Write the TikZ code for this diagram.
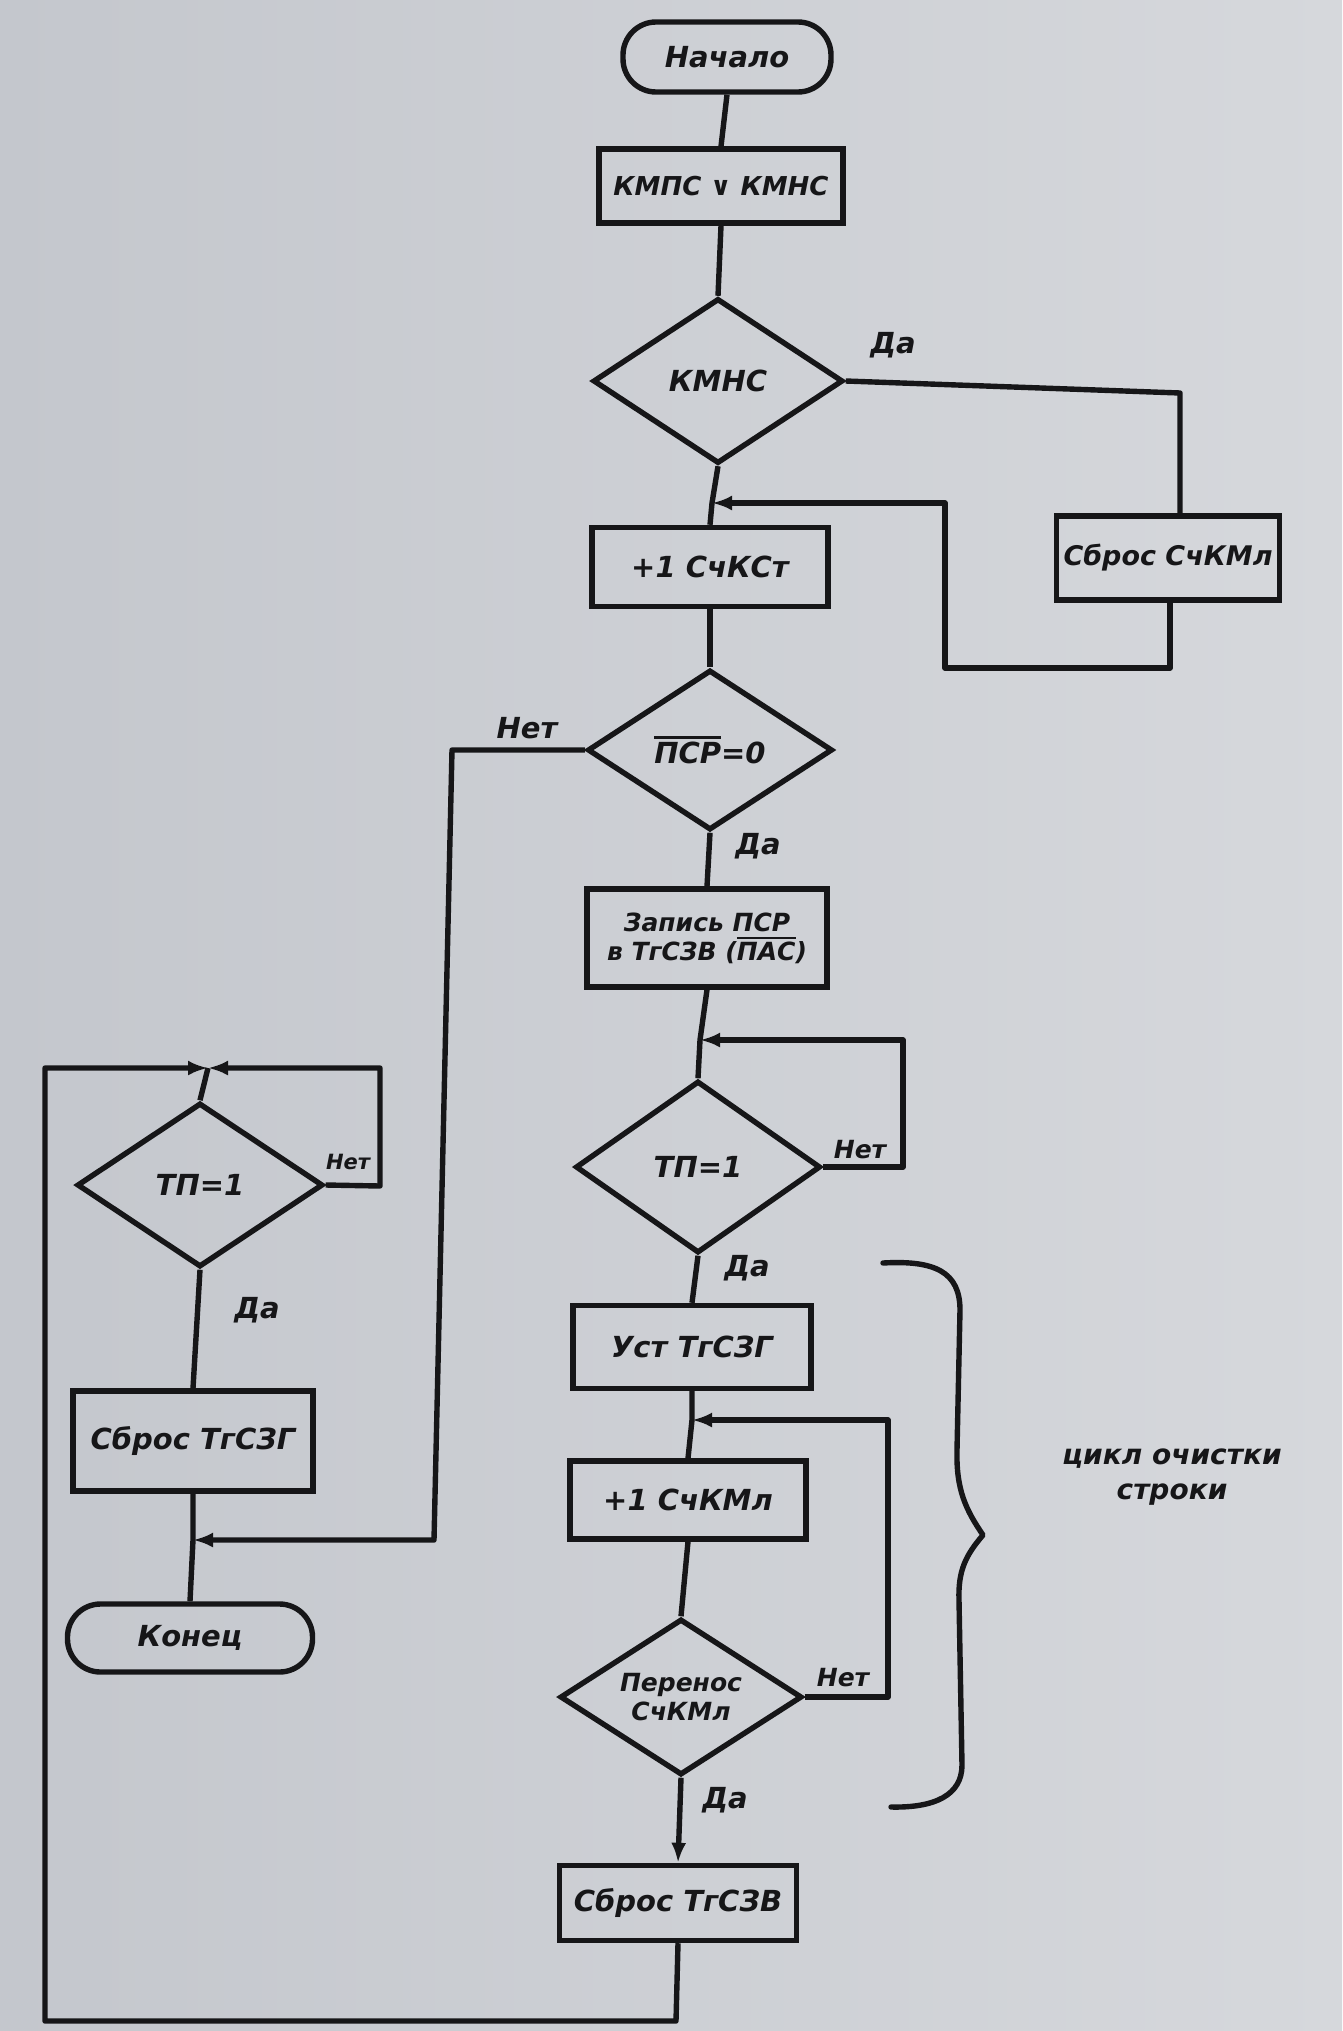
\documentclass[tikz,border=0pt]{standalone}
\usepackage{fontspec}
\setmainfont{DejaVu Sans}
\usetikzlibrary{shapes.geometric,arrows.meta}
\definecolor{ink}{RGB}{22,22,24}
\definecolor{paperL}{RGB}{196,199,205}
\definecolor{paperR}{RGB}{214,216,220}
\newcommand\ovl[1]{\leavevmode\setbox0\hbox{#1}\rlap{\raisebox{1.12\ht0}{\rule{\wd0}{2.6pt}}}\box0}
\begin{document}
\begin{tikzpicture}[x=1pt,y=-1pt,
  ln/.style={draw=ink,line width=5.4pt,line join=round},
  arr/.style={-{Latex[length=20pt,width=15pt]}},
  txt/.style={font=\fontsize{29}{35}\selectfont\bfseries\itshape,text=ink},
  box/.style={txt,draw=ink,line width=5.4pt,inner sep=0pt,align=center},
  term/.style={box,rounded corners=33pt},
  dia/.style={box,diamond,aspect=1.5},
  lab/.style={txt,inner sep=0pt}]
\useasboundingbox (0,0) rectangle (1342,2031);
\shade[left color=paperL,right color=paperR] (0,0) rectangle (1342,2031);
% nodes
\node[term,minimum width=208pt,minimum height=70pt] (start) at (727,57) {Начало};
\node[box,minimum width=244pt,minimum height=74pt,font=\fontsize{26}{32}\selectfont\bfseries\itshape] (kk) at (721,186) {КМПС ∨ КМНС};
\node[dia,minimum width=250pt,minimum height=165pt] (d1) at (718,381) {КМНС};
\node[box,minimum width=223pt,minimum height=84pt,font=\fontsize{27}{34}\selectfont\bfseries\itshape] (sb1) at (1168,558) {Сброс СчКМл};
\node[box,minimum width=236pt,minimum height=79pt] (p1) at (710,567) {+1 СчКСт};
\node[dia,minimum width=245pt,minimum height=160pt] (d2) at (710,750) {\ovl{ПСР}=0};
\node[box,minimum width=240pt,minimum height=98pt,font=\fontsize{25}{29}\selectfont\bfseries\itshape] (zap) at (707,938) {Запись ПСР\\в ТгСЗВ (\ovl{ПАС})};
\node[dia,minimum width=245pt,minimum height=172pt] (d3) at (698,1167) {ТП=1};
\node[box,minimum width=238pt,minimum height=83pt] (ust) at (692,1347) {Уст ТгСЗГ};
\node[box,minimum width=236pt,minimum height=78pt] (p2) at (688,1500) {+1 СчКМл};
\node[dia,minimum width=242pt,minimum height=156pt,font=\fontsize{25}{29}\selectfont\bfseries\itshape] (d4) at (681,1697) {Перенос\\СчКМл};
\node[box,minimum width=237pt,minimum height=75pt] (sb3) at (678,1903) {Сброс ТгСЗВ};
\node[dia,minimum width=246pt,minimum height=164pt] (d5) at (200,1185) {ТП=1};
\node[box,minimum width=240pt,minimum height=100pt] (sb2) at (193,1441) {Сброс ТгСЗГ};
\node[term,minimum width=245pt,minimum height=68pt] (end) at (190,1638) {Конец};
% junctions and bends
\coordinate (j1) at (712,503);
\coordinate (j3) at (700,1040);
\coordinate (j4) at (692,1420);
\coordinate (j5) at (208,1068);
\coordinate (j6) at (193,1540);
\coordinate (c1) at (1180,393);
\coordinate (c2) at (1170,668);
\coordinate (c3) at (945,668);
\coordinate (c4) at (945,503);
\coordinate (n1) at (452,750);
\coordinate (n2) at (434,1540);
\coordinate (r1) at (903,1167);
\coordinate (r2) at (903,1040);
\coordinate (q1) at (888,1697);
\coordinate (q2) at (888,1420);
\coordinate (b1) at (676,2021);
\coordinate (b2) at (45,2021);
\coordinate (b3) at (45,1068);
\coordinate (l1) at (380,1186);
\coordinate (l2) at (380,1068);
% main flow
\draw[ln] (start.south) -- (kk.north);
\draw[ln] (kk.south) -- (d1.north);
\draw[ln] (d1.east) -- (c1) -- (sb1.north -| c1);
\draw[ln] (d1.south) -- (j1) -- (p1.north);
\draw[ln,arr] (sb1.south -| c2) -- (c2) -- (c3) -- (c4) -- (j1);
\draw[ln] (p1.south) -- (d2.north);
\draw[ln,arr] (d2.west) -- (n1) -- (n2) -- (j6);
\draw[ln] (d2.south) -- (zap.north);
\draw[ln] (zap.south) -- (j3) -- (d3.north);
\draw[ln,arr] (d3.east) -- (r1) -- (r2) -- (j3);
\draw[ln] (d3.south) -- (ust.north);
\draw[ln] (ust.south) -- (j4) -- (p2.north);
\draw[ln] (p2.south) -- (d4.north);
\draw[ln,arr] (d4.east) -- (q1) -- (q2) -- (j4);
\draw[ln,arr] (d4.south) -- (sb3.north);
\draw[ln,arr] (sb3.south) -- (b1) -- (b2) -- (b3) -- (j5);
\draw[ln,arr] (d5.east) -- (l1) -- (l2) -- (j5);
\draw[ln] (j5) -- (d5.north);
\draw[ln] (d5.south) -- (sb2.north);
\draw[ln] (sb2.south) -- (j6) -- (end.north);
% labels
\node[lab] (y1) at (893,345) {Да};
\node[lab] (nn2) at (527,728) {Нет};
\node[lab] (y2) at (758,846) {Да};
\node[lab,font=\fontsize{25}{30}\selectfont\bfseries\itshape] (nn3) at (860,1150) {Нет};
\node[lab] (y3) at (747,1268) {Да};
\node[lab,font=\fontsize{25}{30}\selectfont\bfseries\itshape] (nn4) at (843,1678) {Нет};
\node[lab] (y4) at (725,1800) {Да};
\node[lab,font=\fontsize{21}{24}\selectfont\bfseries\itshape] (nn5) at (348,1162) {Нет};
\node[lab] (y5) at (257,1310) {Да};
% brace
\draw[ln,line cap=round] (883,1263) .. controls (935,1260) and (960,1272) .. (960,1310)
  -- (957,1450) .. controls (956,1490) and (966,1510) .. (983,1535)
  .. controls (966,1555) and (958,1570) .. (959,1600)
  -- (962,1765) .. controls (962,1795) and (935,1808) .. (891,1807);
\node[lab,align=center,font=\fontsize{28}{35}\selectfont\bfseries\itshape] (note) at (1172,1477) {цикл очистки\\строки};
\end{tikzpicture}
\end{document}
